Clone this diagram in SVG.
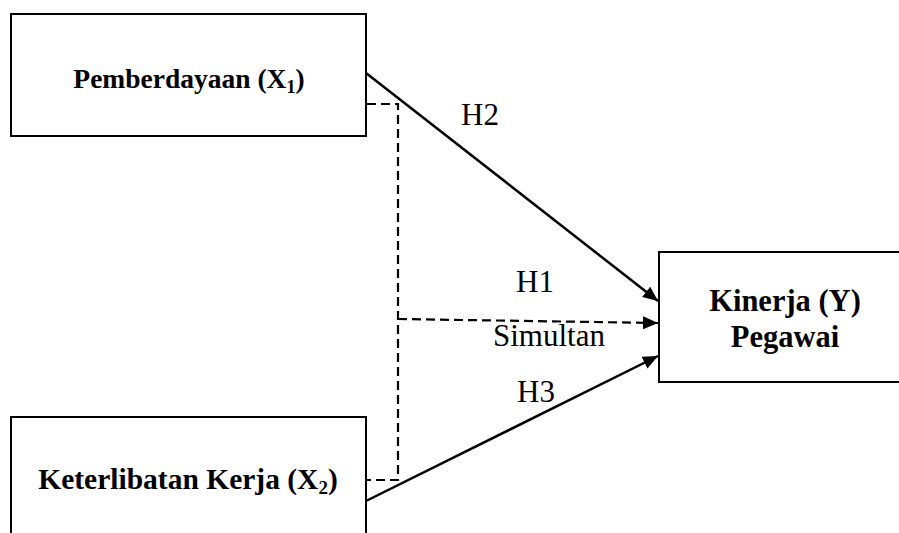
<svg xmlns="http://www.w3.org/2000/svg" width="899" height="533" viewBox="0 0 899 533">
  <style>
    .box { fill: #ffffff; stroke: #000000; stroke-width: 2; }
    .bold { font-family: "Liberation Serif", "Times New Roman", serif; font-weight: bold; fill: #000; }
    .lbl { font-family: "Liberation Serif", "Times New Roman", serif; font-size: 31px; fill: #000; }
    .solid { stroke: #000; stroke-width: 2.5; fill: none; }
    .dash { stroke: #000; stroke-width: 2.2; fill: none; stroke-dasharray: 9,5; }
  </style>
  <defs>
    <marker id="arrow" markerUnits="userSpaceOnUse" markerWidth="16" markerHeight="14" refX="15" refY="6.5" orient="auto">
      <path d="M0,0 L15,6.5 L0,13 z" fill="#000"/>
    </marker>
  </defs>
  <rect width="899" height="533" fill="#ffffff"/>

  <g id="connectors">
    <line class="solid" x1="366" y1="73" x2="658" y2="301" marker-end="url(#arrow)"/>
    <line class="solid" x1="366" y1="501" x2="658" y2="356" marker-end="url(#arrow)"/>
    <polyline class="dash" points="367,104 398,104 398,480 367,480"/>
    <line class="dash" x1="398" y1="319" x2="658" y2="323" marker-end="url(#arrow)"/>
  </g>

  <g id="node-x1">
    <rect class="box" x="11" y="14" width="355" height="122"/>
    <text class="bold" font-size="27.5" x="189" y="88" text-anchor="middle">Pemberdayaan (X<tspan font-size="18" dy="5">1</tspan><tspan dy="-5">)</tspan></text>
  </g>

  <g id="node-x2">
    <rect class="box" x="11" y="417" width="355" height="130"/>
    <text class="bold" font-size="29.5" x="188" y="489" text-anchor="middle">Keterlibatan Kerja (X<tspan font-size="19" dy="5">2</tspan><tspan dy="-5">)</tspan></text>
  </g>

  <g id="node-y">
    <rect class="box" x="659" y="252" width="250" height="130"/>
    <text class="bold" font-size="30.5" x="785" y="311" text-anchor="middle">Kinerja (Y)</text>
    <text class="bold" font-size="30.5" x="785" y="347" text-anchor="middle">Pegawai</text>
  </g>

  <g id="labels">
    <text class="lbl" x="461" y="125">H2</text>
    <text class="lbl" x="516" y="292">H1</text>
    <text class="lbl" x="493" y="346">Simultan</text>
    <text class="lbl" x="517" y="402">H3</text>
  </g>
</svg>
